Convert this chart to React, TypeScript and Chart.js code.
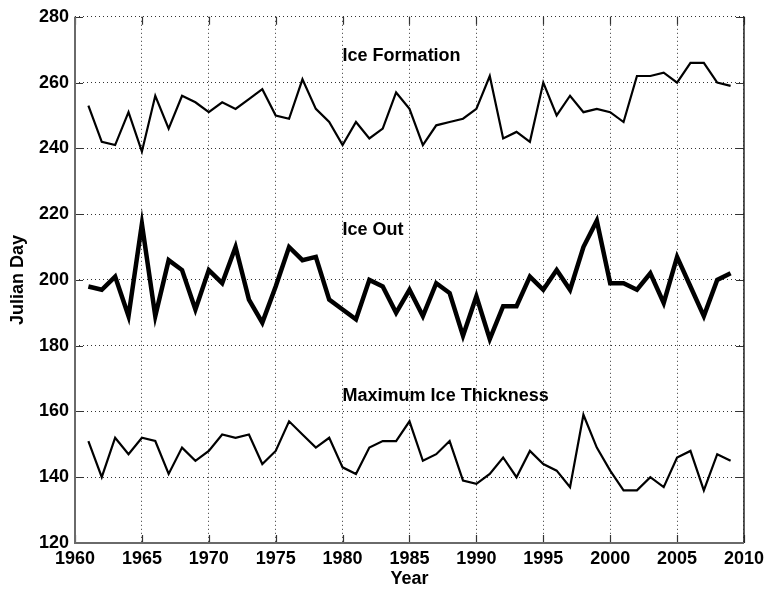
import React, { useEffect, useRef } from "react";
import { Chart, registerables } from "chart.js";

Chart.register(...registerables);

const years: number[] = [
  1961, 1962, 1963, 1964, 1965, 1966, 1967, 1968, 1969, 1970,
  1971, 1972, 1973, 1974, 1975, 1976, 1977, 1978, 1979, 1980,
  1981, 1982, 1983, 1984, 1985, 1986, 1987, 1988, 1989, 1990,
  1991, 1992, 1993, 1994, 1995, 1996, 1997, 1998, 1999, 2000,
  2001, 2002, 2003, 2004, 2005, 2006, 2007, 2008, 2009,
];

const iceFormation: number[] = [
  253, 242, 241, 251, 239, 256, 246, 256, 254, 251,
  254, 252, 255, 258, 250, 249, 261, 252, 248, 241,
  248, 243, 246, 257, 252, 241, 247, 248, 249, 252,
  262, 243, 245, 242, 260, 250, 256, 251, 252, 251,
  248, 262, 262, 263, 260, 266, 266, 260, 259,
];

const iceOut: number[] = [
  198, 197, 201, 189, 217, 189, 206, 203, 191, 203,
  199, 210, 194, 187, 198, 210, 206, 207, 194, 191,
  188, 200, 198, 190, 197, 189, 199, 196, 183, 195,
  182, 192, 192, 201, 197, 203, 197, 210, 218, 199,
  199, 197, 202, 193, 207, 198, 189, 200, 202,
];

const maxIceThickness: number[] = [
  151, 140, 152, 147, 152, 151, 141, 149, 145, 148,
  153, 152, 153, 144, 148, 157, 153, 149, 152, 143,
  141, 149, 151, 151, 157, 145, 147, 151, 139, 138,
  141, 146, 140, 148, 144, 142, 137, 159, 149, 142,
  136, 136, 140, 137, 146, 148, 136, 147, 145,
];

const xTicks: number[] = [1960, 1965, 1970, 1975, 1980, 1985, 1990, 1995, 2000, 2005, 2010];
const yTicks: number[] = [120, 140, 160, 180, 200, 220, 240, 260, 280];

const labelTexts: string[] = ["Ice Formation", "Ice Out", "Maximum Ice Thickness"];
const labelX: number[] = [1980, 1980, 1980];
const labelY: number[] = [268.2, 215.1, 164.8];

const FONT = '"Liberation Sans", Arial, sans-serif';

const toPoints = (vals: number[]) => years.map((y, i) => ({ x: y, y: vals[i] }));

const innerTicksPlugin = {
  id: "innerTicks",
  afterDraw(chart: any) {
    const { ctx, chartArea, scales } = chart;
    const { left, right, top, bottom } = chartArea;
    const len = 8;
    ctx.save();
    ctx.setLineDash([]);
    ctx.strokeStyle = "#333";
    ctx.lineWidth = 1.2;
    ctx.beginPath();
    xTicks.forEach((v) => {
      const px = Math.round(scales.x.getPixelForValue(v)) + 0.5;
      ctx.moveTo(px, bottom);
      ctx.lineTo(px, bottom - len);
      ctx.moveTo(px, top);
      ctx.lineTo(px, top + len);
    });
    yTicks.forEach((v) => {
      const py = Math.round(scales.y.getPixelForValue(v)) + 0.5;
      ctx.moveTo(left, py);
      ctx.lineTo(left + len, py);
      ctx.moveTo(right, py);
      ctx.lineTo(right - len, py);
    });
    ctx.stroke();
    // right border
    ctx.strokeStyle = "#222";
    ctx.lineWidth = 1.5;
    ctx.beginPath();
    ctx.moveTo(right, top);
    ctx.lineTo(right, bottom);
    ctx.stroke();
    // left & bottom axis lines
    ctx.strokeStyle = "#6a6a6a";
    ctx.lineWidth = 2;
    ctx.beginPath();
    ctx.moveTo(left, top);
    ctx.lineTo(left, bottom);
    ctx.lineTo(right, bottom);
    ctx.stroke();
    // text labels
    ctx.fillStyle = "#000";
    ctx.font = `bold 18px ${FONT}`;
    ctx.textAlign = "left";
    ctx.textBaseline = "middle";
    labelTexts.forEach((t, i) => {
      ctx.fillText(t, scales.x.getPixelForValue(labelX[i]), scales.y.getPixelForValue(labelY[i]));
    });
    ctx.restore();
  },
};

export default function App() {
  const canvasRef = useRef<HTMLCanvasElement | null>(null);

  useEffect(() => {
    document.body.style.margin = "0";
    const canvas = canvasRef.current;
    if (!canvas) return;
    const gridCommon = {
      color: "#333",
      lineWidth: 1,
      drawTicks: false,
    };
    const chart = new Chart(canvas, {
      type: "line",
      data: {
        datasets: [
          {
            label: "Ice Formation",
            data: toPoints(iceFormation),
            borderColor: "#000",
            borderWidth: 2.2,
            pointRadius: 0,
            tension: 0,
            fill: false,
          },
          {
            label: "Ice Out",
            data: toPoints(iceOut),
            borderColor: "#000",
            borderWidth: 4.5,
            pointRadius: 0,
            tension: 0,
            fill: false,
          },
          {
            label: "Maximum Ice Thickness",
            data: toPoints(maxIceThickness),
            borderColor: "#000",
            borderWidth: 2.2,
            pointRadius: 0,
            tension: 0,
            fill: false,
          },
        ],
      },
      options: {
        animation: false,
        responsive: false,
        maintainAspectRatio: false,
        devicePixelRatio: 1,
        layout: { padding: { top: 15, right: 24, bottom: 0, left: 0 } },
        plugins: {
          legend: { display: false },
          tooltip: { enabled: false },
        },
        elements: { line: { borderJoinStyle: "miter" } },
        scales: {
          x: {
            type: "linear",
            min: 1960,
            max: 2010,
            afterBuildTicks: (scale: any) => {
              scale.ticks = xTicks.map((v) => ({ value: v }));
            },
            afterFit: (scale: any) => {
              scale.height = 46;
            },
            ticks: {
              color: "#000",
              font: { family: FONT, size: 18, weight: "bold" },
              padding: 5,
              maxRotation: 0,
              autoSkip: false,
              callback: (v: any) => String(v),
            },
            grid: { ...gridCommon },
            border: { display: false, dash: [1, 3] },
            title: {
              display: true,
              text: "Year",
              color: "#000",
              font: { family: FONT, size: 18, weight: "bold", lineHeight: 1.1 },
              padding: { top: 0, bottom: 0 },
            },
          },
          y: {
            type: "linear",
            min: 120,
            max: 280,
            afterBuildTicks: (scale: any) => {
              scale.ticks = yTicks.map((v) => ({ value: v }));
            },
            afterFit: (scale: any) => {
              scale.width = 75;
            },
            ticks: {
              color: "#000",
              font: { family: FONT, size: 18, weight: "bold" },
              padding: 6,
              autoSkip: false,
              callback: (v: any) => String(v),
            },
            grid: { ...gridCommon },
            border: { display: false, dash: [1, 3] },
            title: {
              display: true,
              text: "Julian Day",
              color: "#000",
              font: { family: FONT, size: 18, weight: "bold", lineHeight: 1.2 },
              padding: { top: 7, bottom: 0 },
            },
          },
        },
      },
      plugins: [innerTicksPlugin],
    } as any);
    return () => chart.destroy();
  }, []);

  return (
    <div style={{ width: 769, height: 589, background: "#fff" }}>
      <canvas ref={canvasRef} width={769} height={589} style={{ display: "block" }} />
    </div>
  );
}
